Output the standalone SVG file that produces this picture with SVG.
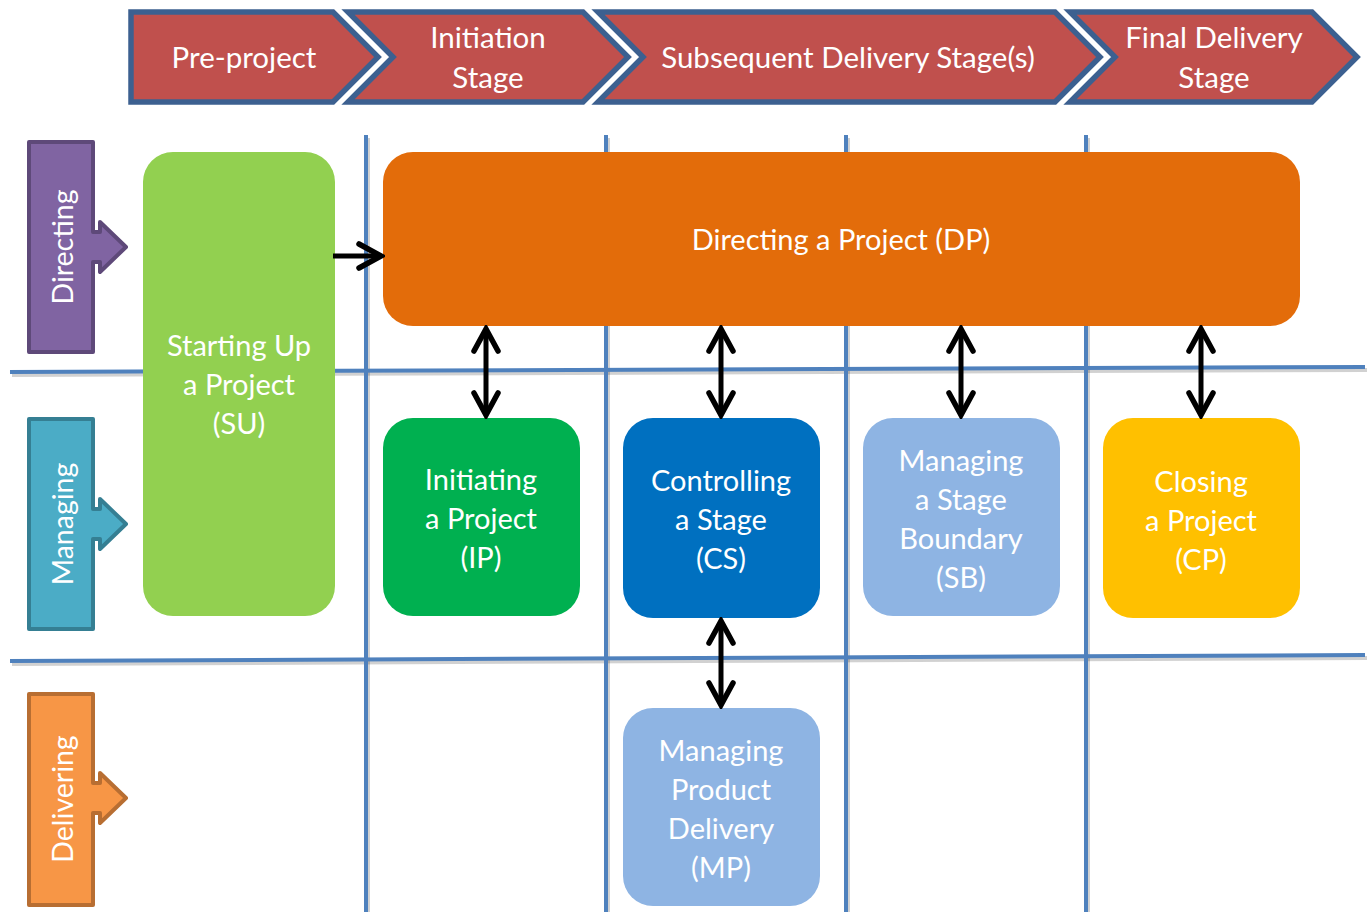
<svg xmlns="http://www.w3.org/2000/svg" width="1368" height="912" viewBox="0 0 1368 912">
  <style>
    text { font-family: Lato, "Open Sans", "Liberation Sans", sans-serif; fill: #ffffff; text-anchor: middle; }
    .stage { fill: #C0504D; stroke: #3C6090; stroke-width: 5.5; stroke-linejoin: miter; }
    .stage-t { font-size: 29.5px; }
    .lane { stroke-width: 4; stroke-linejoin: round; }
    .lane-t { font-size: 28.5px; }
    .grid { stroke: #4F81BD; stroke-width: 4; fill: none; }
    .grid-sh { stroke: #000; stroke-opacity: 0.18; stroke-width: 4; fill: none; }
    .proc-t { font-size: 29px; }
    .link { stroke: #000; stroke-width: 5; fill: none; }
  </style>
  <defs>
    <marker id="head" viewBox="-26 -15 30 30" markerWidth="30" markerHeight="30" refX="0" refY="0" orient="auto-start-reverse" markerUnits="userSpaceOnUse">
      <path d="M-22,-12 L0,0 L-22,12" fill="none" stroke="#000" stroke-width="5.5" stroke-linecap="round" stroke-linejoin="miter"/>
    </marker>
  </defs>

  <rect width="1368" height="912" fill="#ffffff"/>

  <!-- stage chevrons -->
  <g id="stage-preproject">
    <path class="stage" d="M131,12 L333,12 L378,57 L333,102 L131,102 Z"/>
    <text class="stage-t" x="244" y="68">Pre-project</text>
  </g>
  <g id="stage-initiation">
    <path class="stage" d="M348,12 L583,12 L628,57 L583,102 L348,102 L393,57 Z"/>
    <text class="stage-t" x="488" y="48">Initiation</text>
    <text class="stage-t" x="488" y="88">Stage</text>
  </g>
  <g id="stage-subsequent">
    <path class="stage" d="M598,12 L1055,12 L1100,57 L1055,102 L598,102 L643,57 Z"/>
    <text class="stage-t" x="848" y="68">Subsequent Delivery Stage(s)</text>
  </g>
  <g id="stage-final">
    <path class="stage" d="M1070,12 L1312,12 L1357,57 L1312,102 L1070,102 L1115,57 Z"/>
    <text class="stage-t" x="1214" y="48">Final Delivery</text>
    <text class="stage-t" x="1214" y="88">Stage</text>
  </g>

  <!-- swimlane grid -->
  <g id="grid">
    <g transform="translate(2,3)">
      <line class="grid-sh" x1="10" y1="372" x2="1365" y2="367"/>
      <line class="grid-sh" x1="10" y1="661" x2="1365" y2="655"/>
      <line class="grid-sh" x1="366" y1="135" x2="366" y2="912"/>
      <line class="grid-sh" x1="606" y1="135" x2="606" y2="912"/>
      <line class="grid-sh" x1="846" y1="135" x2="846" y2="912"/>
      <line class="grid-sh" x1="1086" y1="135" x2="1086" y2="912"/>
    </g>
    <line class="grid" x1="10" y1="372" x2="1365" y2="367"/>
    <line class="grid" x1="10" y1="661" x2="1365" y2="655"/>
    <line class="grid" x1="366" y1="135" x2="366" y2="912"/>
    <line class="grid" x1="606" y1="135" x2="606" y2="912"/>
    <line class="grid" x1="846" y1="135" x2="846" y2="912"/>
    <line class="grid" x1="1086" y1="135" x2="1086" y2="912"/>
  </g>

  <!-- level labels -->
  <g id="lane-directing">
    <path class="lane" fill="#8064A2" stroke="#5E4979" d="M29,142 H93 V232 H100 V222 L126,247 L100,272 V262 H93 V352 H29 Z"/>
    <text class="lane-t" transform="translate(73,247) rotate(-90)">Directing</text>
  </g>
  <g id="lane-managing">
    <path class="lane" fill="#4BACC6" stroke="#357F93" d="M29,419 H93 V509 H100 V499 L126,524 L100,549 V539 H93 V629 H29 Z"/>
    <text class="lane-t" transform="translate(73,524) rotate(-90)">Managing</text>
  </g>
  <g id="lane-delivering">
    <path class="lane" fill="#F79646" stroke="#B86E32" d="M29,694 H93 V783 H100 V773 L126,798 L100,823 V813 H93 V905 H29 Z"/>
    <text class="lane-t" transform="translate(73,799) rotate(-90)">Delivering</text>
  </g>

  <!-- processes -->
  <g id="su">
    <rect x="143" y="152" width="192" height="464" rx="30" fill="#92D050"/>
    <text class="proc-t" x="239" y="356">Starting Up</text>
    <text class="proc-t" x="239" y="395">a Project</text>
    <text class="proc-t" x="239" y="434">(SU)</text>
  </g>
  <g id="dp">
    <rect x="383" y="152" width="917" height="174" rx="30" fill="#E36C0A"/>
    <text class="proc-t" x="841" y="250">Directing a Project (DP)</text>
  </g>
  <g id="ip">
    <rect x="383" y="418" width="197" height="198" rx="30" fill="#00B050"/>
    <text class="proc-t" x="481" y="490">Initiating</text>
    <text class="proc-t" x="481" y="529">a Project</text>
    <text class="proc-t" x="481" y="568">(IP)</text>
  </g>
  <g id="cs">
    <rect x="623" y="418" width="197" height="200" rx="30" fill="#0070C0"/>
    <text class="proc-t" x="721" y="491">Controlling</text>
    <text class="proc-t" x="721" y="530">a Stage</text>
    <text class="proc-t" x="721" y="569">(CS)</text>
  </g>
  <g id="sb">
    <rect x="863" y="418" width="197" height="198" rx="30" fill="#8EB4E3"/>
    <text class="proc-t" x="961" y="471">Managing</text>
    <text class="proc-t" x="961" y="510">a Stage</text>
    <text class="proc-t" x="961" y="549">Boundary</text>
    <text class="proc-t" x="961" y="588">(SB)</text>
  </g>
  <g id="cp">
    <rect x="1103" y="418" width="197" height="200" rx="30" fill="#FFC000"/>
    <text class="proc-t" x="1201" y="492">Closing</text>
    <text class="proc-t" x="1201" y="531">a Project</text>
    <text class="proc-t" x="1201" y="570">(CP)</text>
  </g>
  <g id="mp">
    <rect x="623" y="708" width="197" height="198" rx="30" fill="#8EB4E3"/>
    <text class="proc-t" x="721" y="761">Managing</text>
    <text class="proc-t" x="721" y="800">Product</text>
    <text class="proc-t" x="721" y="839">Delivery</text>
    <text class="proc-t" x="721" y="878">(MP)</text>
  </g>

  <!-- connectors -->
  <g id="connectors">
    <line class="link" x1="333" y1="256" x2="381" y2="256" marker-end="url(#head)"/>
    <line class="link" x1="486" y1="329" x2="486" y2="415" marker-start="url(#head)" marker-end="url(#head)"/>
    <line class="link" x1="721" y1="329" x2="721" y2="415" marker-start="url(#head)" marker-end="url(#head)"/>
    <line class="link" x1="961" y1="329" x2="961" y2="415" marker-start="url(#head)" marker-end="url(#head)"/>
    <line class="link" x1="1201" y1="329" x2="1201" y2="415" marker-start="url(#head)" marker-end="url(#head)"/>
    <line class="link" x1="721" y1="621" x2="721" y2="705" marker-start="url(#head)" marker-end="url(#head)"/>
  </g>
</svg>
